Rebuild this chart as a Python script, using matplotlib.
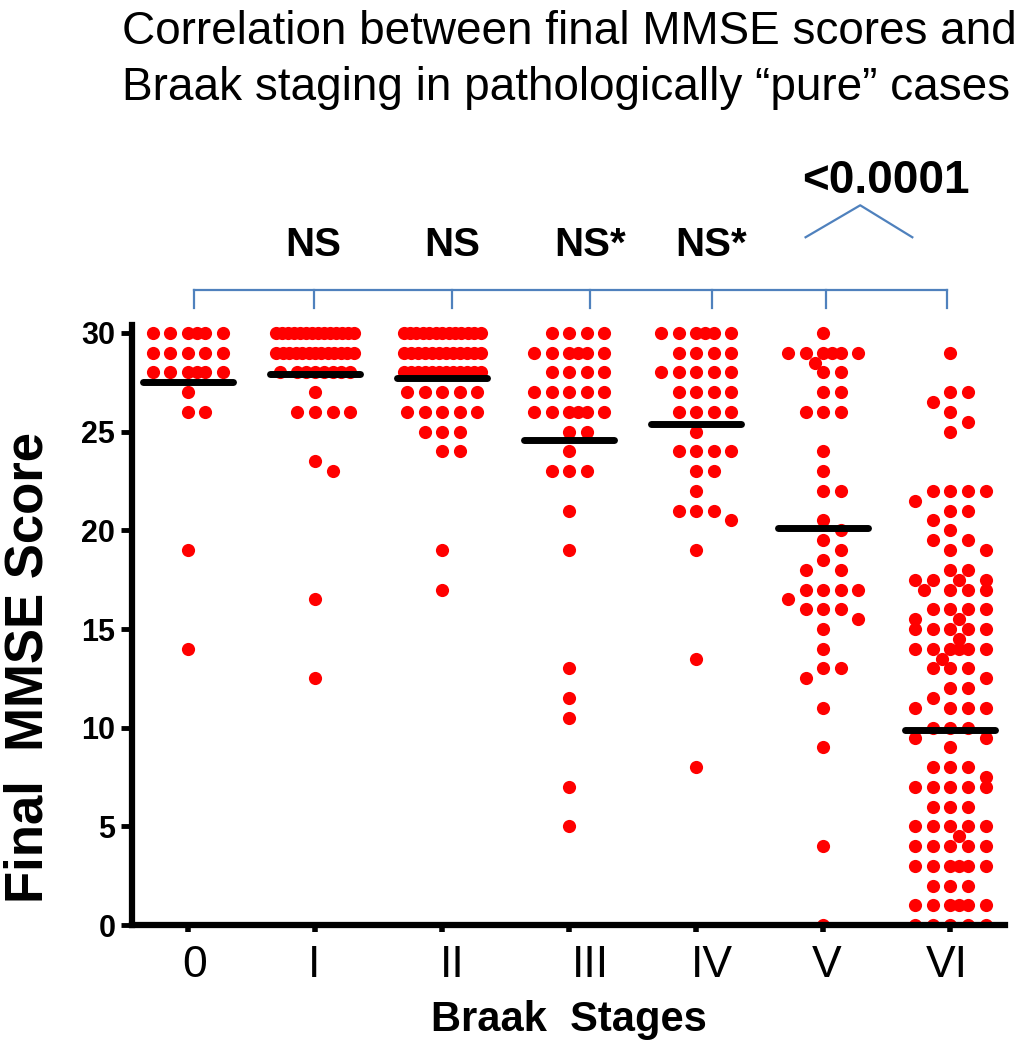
import numpy as np
import matplotlib
matplotlib.use('Agg')
import matplotlib.pyplot as plt
from matplotlib.transforms import blended_transform_factory

plt.rcParams['font.family'] = ['Liberation Sans', 'DejaVu Sans']

STAGES = ['0', 'I', 'II', 'III', 'IV', 'V', 'VI']

# final MMSE score of each case
MMSE_0 = [30, 30, 30, 30, 30, 30, 29, 29, 29, 29, 29, 28, 28, 28, 28, 28, 28,
          27, 26, 26, 19, 14]
MMSE_I = [30, 30, 30, 30, 30, 30, 30, 30, 30, 30, 30, 30, 30, 30,
          29, 29, 29, 29, 29, 29, 29, 29, 29, 29, 29, 29, 29,
          28, 28, 28, 28, 28, 28, 28, 28, 27, 26, 26, 26, 26,
          23.5, 23, 16.5, 12.5]
MMSE_II = [30, 30, 30, 30, 30, 30, 30, 30, 30, 30, 30, 30, 30,
           29, 29, 29, 29, 29, 29, 29, 29, 29, 29, 29, 29,
           28, 28, 28, 28, 28, 28, 28, 28, 28, 28, 28, 28,
           27, 27, 27, 27, 27, 26, 26, 26, 26, 26, 25, 25, 25, 24, 24, 19, 17]
MMSE_III = [30, 30, 30, 30, 29, 29, 29, 29, 29, 29, 28, 28, 28, 28,
            27, 27, 27, 27, 27, 26, 26, 26, 26, 26, 26, 25, 25, 24,
            23, 23, 23, 21, 19, 13, 11.5, 10.5, 7, 5]
MMSE_IV = [30, 30, 30, 30, 30, 30, 29, 29, 29, 29, 28, 28, 28, 28, 28,
           27, 27, 27, 27, 26, 26, 26, 26, 25, 24, 24, 24, 24, 23, 23,
           22, 21, 21, 21, 20.5, 19, 13.5, 8]
MMSE_V = [30, 29, 29, 29, 29, 29, 29, 28.5, 28, 28, 27, 27, 26, 26, 26,
          24, 23, 22, 22, 20.5, 20, 19.5, 19, 18.5, 18, 18, 17, 17, 17, 17,
          16.5, 16, 16, 16, 15.5, 15, 14, 13, 13, 12.5, 11, 9, 4, 0]
MMSE_VI = [29, 27, 27, 26.5, 26, 25.5, 25, 22, 22, 22, 22, 21.5, 21, 21,
           20.5, 20, 19.5, 19.5, 19, 19, 18, 18, 17.5, 17.5, 17.5, 17.5,
           17, 17, 17, 17, 16, 16, 16, 16, 15.5, 15.5, 15, 15, 15, 15, 15,
           14.5, 14, 14, 14, 14, 14, 14, 13.5, 13, 13, 13, 12.5, 12, 12,
           11.5, 11, 11, 11, 11, 10, 10, 10, 9.5, 9.5, 9, 8, 8, 8, 7.5,
           7, 7, 7, 7, 7, 6, 6, 6, 5, 5, 5, 5, 5, 4.5, 4, 4, 4, 4, 4,
           3, 3, 3, 3, 3, 3, 2, 2, 2, 1, 1, 1, 1, 1, 1, 0, 0, 0, 0, 0]
MMSE_BY_STAGE = [MMSE_0, MMSE_I, MMSE_II, MMSE_III, MMSE_IV, MMSE_V, MMSE_VI]

# horizontal bars as drawn in the figure
MEAN_MMSE = [27.5, 27.9, 27.7, 24.6, 25.4, 20.1, 9.9]

PAIR_LABELS = ['', 'NS', 'NS', 'NS*', 'NS*', '', '']
P_LABEL = '<0.0001'

TITLE = ['Correlation between final MMSE scores and',
         'Braak staging in pathologically \u201cpure\u201d cases']

# label / bracket positions are a bit off the dot columns in the original
LABEL_SHIFT = [0.05, -0.01, 0.08, 0.165, 0.12, 0.024, -0.03]

SLOT = 0.138          # one dot step, in category units
CANDIDATES = [0, 1, -1, 2, -2, 0.5, -0.5, 1.5, -1.5]


def column_offsets(ax, values, center, min_px=11.5):
    # graphpad-like column scatter: equal values side by side, 5 slots wide
    to_px = ax.transData.transform
    vals = np.asarray(values, float)
    xs = np.full(len(vals), float(center))
    placed = []
    for v in sorted(set(vals), reverse=True):
        idx = np.where(vals == v)[0]
        n = len(idx)
        if n > 9:
            slots = list(np.linspace(-2.2, 2.2, n))
        elif n > 5:
            slots = [-2, -1, 0, 1, 2, 0.5, -0.5, 1.5, -1.5][:n]
        else:
            slots = []
            for _ in range(n):
                best, best_d = None, -1.0
                for c in CANDIDATES:
                    if c in slots:
                        continue
                    p = to_px((center + c * SLOT, v))
                    d = min([np.hypot(*(p - q)) for q in placed] + [1e9])
                    if d >= min_px:
                        best = c
                        break
                    if d > best_d:
                        best, best_d = c, d
                slots.append(best)
                placed.append(to_px((center + best * SLOT, v)))
            xs[idx] = [center + s * SLOT for s in slots]
            continue
        xs[idx] = [center + s * SLOT for s in slots]
        placed.extend(to_px(np.column_stack([xs[idx], vals[idx]])))
    return xs


fig = plt.figure(figsize=(10.2, 10.5), dpi=100)
ax = fig.add_axes([0.1294, 0.119, 0.856, 0.5714])
ax.set_xlim(-0.44, 6.43)
ax.set_ylim(0, 30.4)

for i, vals in enumerate(MMSE_BY_STAGE):
    xs = column_offsets(ax, vals, i)
    ax.scatter(xs, vals, s=90, color='#ff0000', linewidths=0, zorder=2)
    ax.plot([i - 0.354, i + 0.354], [MEAN_MMSE[i]] * 2, color='black',
            lw=5, solid_capstyle='round', zorder=4)

for side in ['top', 'right']:
    ax.spines[side].set_visible(False)
for side in ['left', 'bottom']:
    ax.spines[side].set_linewidth(4.5)
    ax.spines[side].set_zorder(3)

ax.set_yticks([0, 5, 10, 15, 20, 25, 30])
ax.tick_params(axis='y', direction='out', length=8, width=3.5, labelsize=22, pad=4)
for lbl in ax.get_yticklabels():
    lbl.set_fontweight('bold')
ax.set_xticks(range(len(STAGES)))
ax.tick_params(axis='x', direction='out', length=5, width=4, labelbottom=False)

trans = blended_transform_factory(ax.transData, ax.transAxes)
for i, name in enumerate(STAGES):
    ax.text(i + LABEL_SHIFT[i], -0.067, name, transform=trans, ha='center',
            va='center', fontsize=32)

ax.set_xlabel('Braak  Stages', fontsize=30, fontweight='bold', va='center')
ax.xaxis.set_label_coords(0.5, -0.158)
ax.set_ylabel('Final  MMSE Score', fontsize=38, fontweight='bold', va='center')
ax.yaxis.set_label_coords(-0.118, 0.43)

# comparison bracket
blue = '#4f81bd'
bx = [i + LABEL_SHIFT[i] for i in range(len(STAGES))]
ax.plot([bx[0], bx[-1]], [32.17, 32.17], color=blue, lw=1.6, clip_on=False)
for x in bx:
    ax.plot([x, x], [32.17, 31.25], color=blue, lw=1.6, clip_on=False)
for x, lab in zip(bx, PAIR_LABELS):
    if lab:
        ax.text(x, 34.45, lab, ha='center', va='center', fontsize=29,
                fontweight='bold')
ax.plot([4.86, 5.29, 5.70], [34.85, 36.47, 34.85], color=blue, lw=1.6,
        clip_on=False)
ax.text(5.49, 37.7, P_LABEL, ha='center', va='center', fontsize=33,
        fontweight='bold')

fig.text(122 / 1020, 1 - 44 / 1050, TITLE[0], ha='left', va='baseline',
         fontsize=33)
fig.text(122 / 1020, 1 - 100 / 1050, TITLE[1], ha='left', va='baseline',
         fontsize=33)

fig.savefig('out.png', dpi=100)
